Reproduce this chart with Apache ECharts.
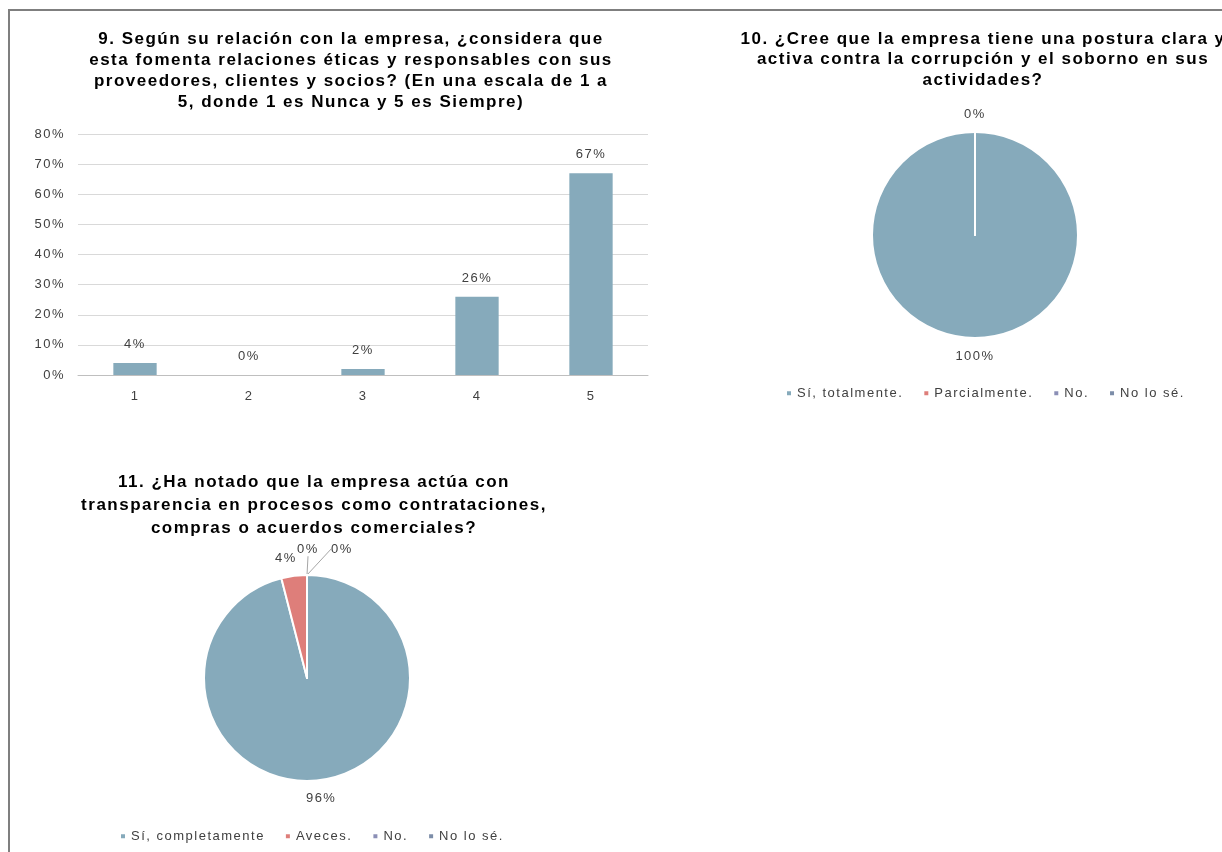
<!DOCTYPE html>
<html>
<head>
<meta charset="utf-8">
<script src="https://cdn.jsdelivr.net/npm/echarts@6/dist/echarts.min.js"></script>
<style>
html,body{margin:0;padding:0;background:#fff;}
#c{width:1222px;height:852px;}
</style>
</head>
<body>
<div id="c"></div>
<script>
// ---- data ----
const barTitle = '9. Según su relación con la empresa, ¿considera que\nesta fomenta relaciones éticas y responsables con sus\nproveedores, clientes y socios? (En una escala de 1 a\n5, donde 1 es Nunca y 5 es Siempre)';
const barCategories = ['1', '2', '3', '4', '5'];
const barValues = [4, 0, 2, 26, 67];
const barAxisMax = 80;
const barAxisInterval = 10;

const pie2Title = '10. ¿Cree que la empresa tiene una postura clara y\nactiva contra la corrupción y el soborno en sus\nactividades?';
const pie2Names = ['Sí, totalmente.', 'Parcialmente.', 'No.', 'No lo sé.'];
const pie2Values = [100, 0, 0, 0];

const pie3Title = '11. ¿Ha notado que la empresa actúa con\ntransparencia en procesos como contrataciones,\ncompras o acuerdos comerciales?';
const pie3Names = ['Sí, completamente', 'Aveces.', 'No.', 'No lo sé.'];
const pie3Values = [96, 4, 0, 0];

const sliceColors = ['#86AABB', '#DE7E7A', '#8B8FB6', '#7C8DA8'];

// ---- text rendering: the source renders text with loose letter spacing ----
const LETTER_SPACING = '1.5px';
(function () {
  const proto = CanvasRenderingContext2D.prototype;
  const fill = proto.fillText, stroke = proto.strokeText, measure = proto.measureText;
  proto.fillText = function () { this.letterSpacing = LETTER_SPACING; return fill.apply(this, arguments); };
  proto.strokeText = function () { this.letterSpacing = LETTER_SPACING; return stroke.apply(this, arguments); };
  proto.measureText = function () { this.letterSpacing = LETTER_SPACING; return measure.apply(this, arguments); };
})();

// ---- chart ----
const FONT = '"Liberation Sans", Arial, sans-serif';
const chart = echarts.init(document.getElementById('c'), null, {renderer: 'canvas'});

function pieData(names, values, labelShown, labelLineShown) {
  return names.map((n, i) => ({
    name: n, value: values[i], itemStyle: {color: sliceColors[i]},
    label: {show: labelShown[i]},
    labelLine: {show: labelLineShown[i]}
  }));
}

const titleStyle = {fontFamily: FONT, fontSize: 17, fontWeight: 'bold', color: '#000'};
const pctFormatter = (p) => Math.round(p.percent) + '%';

// label nudges for the small slices of pie 3 (label offsets only)
const pie3LabelNudge = [[-1, 0], [-6, 0], [1, -8], [35, -8]];

const option = {
  animation: false,
  backgroundColor: '#fff',
  textStyle: {fontFamily: FONT},
  graphic: [
    {type: 'line', shape: {x1: 9, y1: 10, x2: 1222, y2: 10}, style: {stroke: '#7f7f7f', lineWidth: 2}},
    {type: 'line', shape: {x1: 9, y1: 9, x2: 9, y2: 852}, style: {stroke: '#7f7f7f', lineWidth: 2}}
  ],
  title: [
    {text: barTitle, left: 346, top: 24, textAlign: 'center', textStyle: Object.assign({lineHeight: 21}, titleStyle)},
    {text: pie2Title, left: 978, top: 24, textAlign: 'center', textStyle: Object.assign({lineHeight: 20.5}, titleStyle)},
    {text: pie3Title, left: 309, top: 466, textAlign: 'center', textStyle: Object.assign({lineHeight: 23}, titleStyle)}
  ],
  legend: [
    {
      data: pie2Names, left: 780, top: 381, icon: 'rect', itemWidth: 6, itemHeight: 6, itemGap: 19,
      textStyle: {fontFamily: FONT, fontSize: 13, color: '#404040'}
    },
    {
      data: pie3Names, left: 114, top: 824, icon: 'rect', itemWidth: 6, itemHeight: 6, itemGap: 19,
      textStyle: {fontFamily: FONT, fontSize: 13, color: '#404040'}
    }
  ],
  grid: {left: 78, right: 574, top: 134, bottom: 477, containLabel: false},
  xAxis: {
    type: 'category', data: barCategories,
    axisLine: {lineStyle: {color: '#bfbfbf'}},
    axisTick: {lineStyle: {color: '#bfbfbf'}, length: 5},
    axisLabel: {color: '#404040', fontSize: 13, fontFamily: FONT, margin: 14}
  },
  yAxis: {
    type: 'value', min: 0, max: barAxisMax, interval: barAxisInterval,
    axisLine: {show: false}, axisTick: {show: false},
    splitLine: {lineStyle: {color: '#d9d9d9'}},
    axisLabel: {color: '#404040', fontSize: 13, fontFamily: FONT, formatter: '{value}%', margin: 13}
  },
  series: [
    {
      type: 'bar', data: barValues, barWidth: '38%',
      itemStyle: {color: '#86AABB'},
      label: {show: true, position: 'top', distance: 11, formatter: '{c}%', color: '#404040', fontSize: 13, fontFamily: FONT}
    },
    {
      type: 'pie', center: [975, 235], radius: 103, startAngle: 90, clockwise: true,
      avoidLabelOverlap: false,
      data: pieData(pie2Names, pie2Values, [true, true, false, false], [false, false, false, false]),
      itemStyle: {borderColor: '#fff', borderWidth: 2},
      label: {position: 'outside', formatter: pctFormatter, color: '#404040', fontSize: 13, fontFamily: FONT},
      labelLine: {length: 18, length2: 0},
      labelLayout: function (p) {
        const pts = p.labelLinePoints;
        if (!pts || !pts[1]) return {};
        return {x: pts[1][0], y: pts[1][1], align: 'center', verticalAlign: 'middle'};
      },
      emphasis: {disabled: true}
    },
    {
      type: 'pie', center: [307, 678], radius: 103, startAngle: 90, clockwise: true,
      avoidLabelOverlap: false,
      data: pieData(pie3Names, pie3Values, [true, true, true, true], [false, false, true, true]),
      itemStyle: {borderColor: '#fff', borderWidth: 2},
      label: {position: 'outside', formatter: pctFormatter, color: '#404040', fontSize: 13, fontFamily: FONT},
      labelLine: {length: 18, length2: 0, lineStyle: {color: '#a6a6a6'}},
      labelLayout: function (p) {
        const pts = p.labelLinePoints;
        if (!pts || !pts[1]) return {};
        const n = pie3LabelNudge[p.dataIndex] || [0, 0];
        return {x: pts[1][0] + n[0], y: pts[1][1] + n[1], align: 'center', verticalAlign: 'middle'};
      },
      emphasis: {disabled: true}
    }
  ]
};
chart.setOption(option);
</script>
</body>
</html>
